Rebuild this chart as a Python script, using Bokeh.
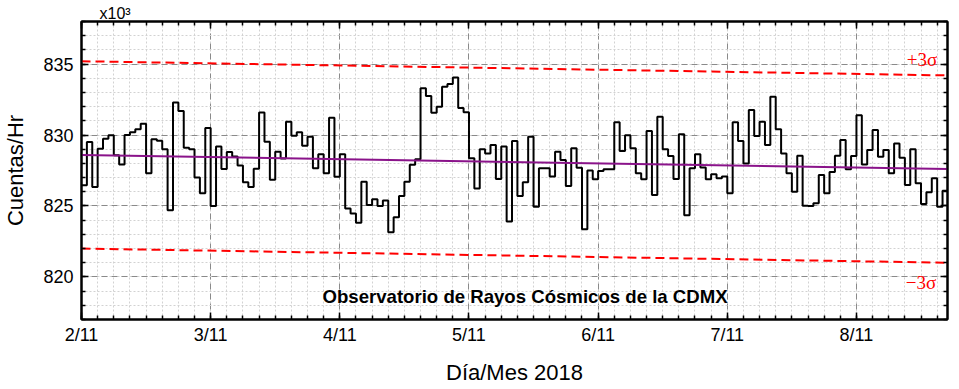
from bokeh.plotting import figure
from bokeh.models import FixedTicker, LinearAxis, Label, Range1d, Title
from bokeh.embed import file_html
from bokeh.resources import INLINE

# ---- data (hourly counts, x10^3 counts/hr) starting 2/11/2018 00:00 ----
start_day = 2.0
counts = [
    826.46, 829.5, 826.34, 829.04, 829.74, 829.98, 828.57, 827.93, 830.0, 830.2,
    830.4, 830.8, 827.3, 829.7, 829.6, 829.0, 824.7, 832.3, 831.7, 829.1,
    829.0, 827.0, 825.9, 830.5, 825.0, 829.2, 827.6, 828.8, 828.48, 827.85,
    826.68, 826.33, 827.62, 831.59, 829.53, 826.85, 828.82, 828.35, 830.94, 829.95,
    830.19, 829.25, 829.88, 827.65, 828.64, 827.3, 831.22, 827.06, 828.64, 824.82,
    824.47, 823.81, 826.7, 825.06, 825.48, 825.0, 825.38, 823.15, 824.2, 825.7,
    826.7, 827.9, 828.3, 833.29, 832.75, 831.57, 832.0, 833.4, 833.6, 834.06,
    831.9, 831.6, 828.36, 826.24, 828.99, 828.7, 829.3, 826.9, 829.2, 823.9,
    829.58, 825.7, 826.67, 829.88, 824.95, 827.65, 827.65, 827.07, 828.83, 828.24,
    826.4, 829.06, 827.7, 823.36, 827.5, 826.88, 827.46, 827.58, 827.58, 830.9,
    828.87, 829.98, 829.06, 827.3, 826.88, 830.28, 825.77, 831.29, 828.99, 828.52,
    826.9, 830.05, 824.34, 827.65, 828.64, 827.72, 826.88, 827.23, 826.95, 827.07,
    825.9, 830.9, 829.58, 828.0, 831.76, 829.93, 830.94, 829.3, 832.7, 830.4,
    828.7, 827.3, 826.0, 828.54, 825.02, 825.0, 825.2, 827.18, 825.9, 827.4,
    828.54, 829.65, 827.58, 828.52, 831.4, 827.93, 828.94, 830.35, 828.47, 828.94,
    827.3, 829.4, 828.4, 826.48, 829.0, 826.6, 825.14, 825.96, 826.95, 824.95,
    826.08,
]
end_day = 8.705
trend_start = 828.6
trend_end = 827.6
three_sigma = 6.6

day_ticks = [2, 3, 4, 5, 6, 7, 8]
day_labels = ["2/11", "3/11", "4/11", "5/11", "6/11", "7/11", "8/11"]
y_ticks = [820, 825, 830, 835]
title_text = "Observatorio de Rayos Cósmicos de la CDMX"
scale_text = "x10³"

# step edges (hourly)
xs = [start_day + i / 24.0 for i in range(len(counts) + 1)]
ys = counts + [counts[-1]]

FONT = "Liberation Sans"

p = figure(width=959, height=389,
           x_range=Range1d(start_day, end_day), y_range=Range1d(817, 838),
           output_backend="svg", toolbar_location=None,
           min_border_left=79, min_border_right=12, min_border_top=21, min_border_bottom=70)

p.background_fill_color = "white"
p.border_fill_color = "white"
p.outline_line_color = "black"
p.outline_line_width = 2

xt = FixedTicker(ticks=day_ticks, minor_ticks=[start_day + i / 8 for i in range(0, 8 * 7 + 1)])
yt = FixedTicker(ticks=y_ticks, minor_ticks=list(range(817, 839)))

def style_axis(ax, labels=True):
    ax.axis_line_color = "black"
    ax.axis_line_width = 2
    ax.major_tick_line_color = "black"
    ax.major_tick_line_width = 1.5
    ax.minor_tick_line_color = "black"
    ax.minor_tick_line_width = 1.5
    ax.major_tick_in = 7
    ax.major_tick_out = 0
    ax.minor_tick_in = 4
    ax.minor_tick_out = 0
    if labels:
        ax.major_label_text_font = FONT
        ax.major_label_text_font_size = "18px"
        ax.major_label_text_color = "black"
        ax.axis_label_text_font = FONT
        ax.axis_label_text_font_size = "22px"
        ax.axis_label_text_font_style = "normal"
        ax.axis_label_text_color = "black"
    else:
        ax.major_label_text_font_size = "1px"
        ax.major_label_text_color = None
        ax.major_label_standoff = 0

xa = p.xaxis[0]
ya = p.yaxis[0]
xa.ticker = xt
ya.ticker = yt
xa.major_label_overrides = {d: l for d, l in zip(day_ticks, day_labels)}
style_axis(xa)
style_axis(ya)
xa.axis_label = "Día/Mes 2018"
ya.axis_label = "Cuentas/Hr"
xa.major_label_standoff = 5
xa.axis_label_standoff = 12
ya.major_label_standoff = 8
ya.axis_label_standoff = 12

top = LinearAxis(ticker=xt)
style_axis(top, labels=False)
right = LinearAxis(ticker=yt)
style_axis(right, labels=False)
p.add_layout(top, "above")
p.add_layout(right, "right")

p.add_layout(Title(text=scale_text, align="left", offset=18, standoff=0,
                   text_font=FONT, text_font_size="16px", text_font_style="normal",
                   text_color="black", vertical_align="bottom"), "above")

for g, t in ((p.xgrid, xt), (p.ygrid, yt)):
    g.ticker = t
    g.grid_line_color = "#8a8a8a"
    g.grid_line_width = 1
    g.grid_line_dash = "6 4"
    g.minor_grid_line_color = "#d2d2d2"
    g.minor_grid_line_width = 1
    g.minor_grid_line_dash = "2 2"

# sigma lines and trend
p.line([start_day, end_day], [trend_start + three_sigma, trend_end + three_sigma],
       line_color="red", line_width=2, line_dash="9 5")
p.line([start_day, end_day], [trend_start - three_sigma, trend_end - three_sigma],
       line_color="red", line_width=2, line_dash="9 5")
p.step(xs, ys, mode="after", line_color="black", line_width=2)
p.line([start_day, end_day], [trend_start, trend_end], line_color="#8a138a", line_width=2)

p.add_layout(Label(x=8.507, y=835.3, text="+3σ", text_font="Liberation Serif",
                   text_font_size="19px", text_color="red",
                   text_align="center", text_baseline="middle"))
p.add_layout(Label(x=8.5, y=819.62, text="−3σ", text_font="Liberation Serif",
                   text_font_size="19px", text_color="red",
                   text_align="center", text_baseline="middle"))
p.add_layout(Label(x=5.434, y=818.6, text=title_text, text_font=FONT,
                   text_font_size="18.6px", text_font_style="bold", text_color="black",
                   text_align="center", text_baseline="middle"))

open("out.html", "w").write(file_html(p, INLINE))
